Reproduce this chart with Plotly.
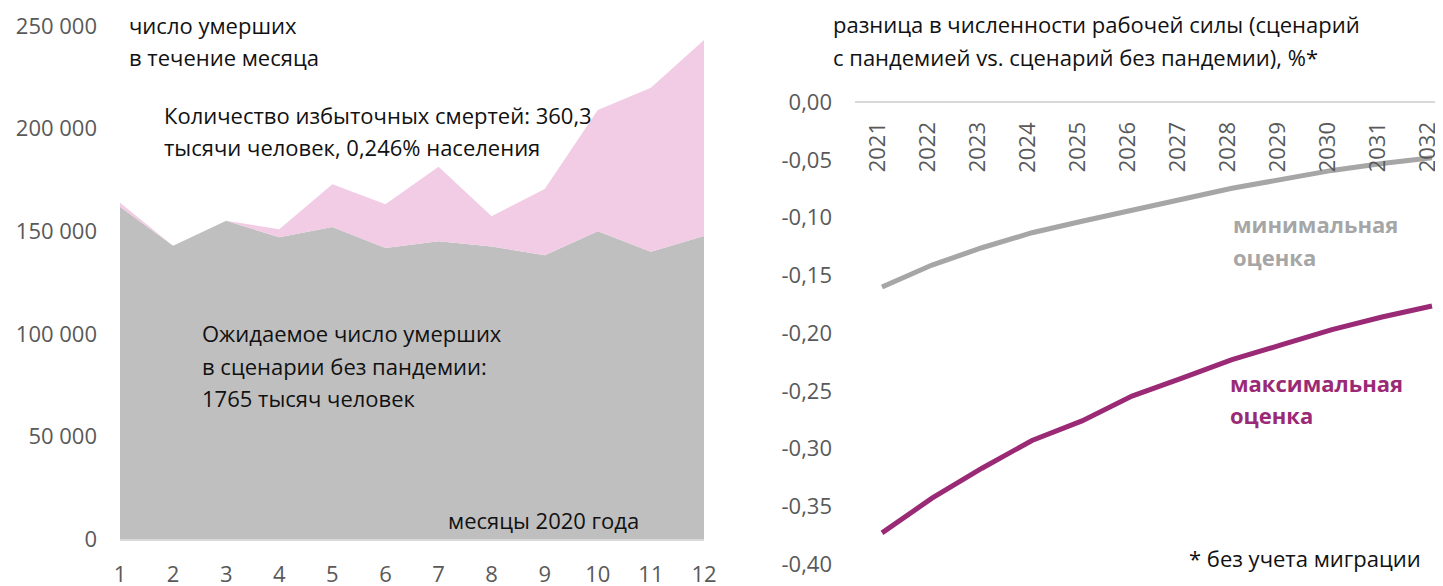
import plotly.graph_objects as go

W, H = 1443, 586
OFF = 8  # page body margin offset of the plot div

# ---- data: left chart (monthly deaths, 2020) ----
months = list(range(1, 13))
expected_deaths = [161900, 142900, 155100, 147000, 152000, 141800, 145100, 142500, 138300, 150000, 140000, 147700]
actual_deaths = [163900, 142900, 155100, 150900, 172900, 163100, 181400, 157300, 170600, 209100, 219900, 243200]
left_yticks = [0, 50000, 100000, 150000, 200000, 250000]
left_yticklabels = ["0", "50 000", "100 000", "150 000", "200 000", "250 000"]

# ---- data: right chart (labour force difference, %) ----
years = list(range(2021, 2033))
min_estimate = [-0.160, -0.141, -0.126, -0.113, -0.103, -0.093, -0.084, -0.0745, -0.067, -0.059, -0.053, -0.048]
max_estimate = [-0.373, -0.343, -0.317, -0.293, -0.276, -0.2545, -0.239, -0.223, -0.210, -0.197, -0.186, -0.1765]
right_yticks = [0, -0.05, -0.10, -0.15, -0.20, -0.25, -0.30, -0.35, -0.40]
right_yticklabels = ["0,00", "-0,05", "-0,10", "-0,15", "-0,20", "-0,25", "-0,30", "-0,35", "-0,40"]

FONT = "Open Sans"
TXT = "#111111"
TICK = "#595959"
GRAY_FILL = "#bfbfbf"
PINK_FILL = "#f2cbe5"
GRAY_LINE = "#a6a6a6"
PURPLE = "#9b2a76"
FS = 22


def px(x):
    return (x - OFF) / W


def py(y):
    return 1 - (y - OFF) / H


fig = go.Figure()

fig.add_trace(go.Scatter(x=months, y=expected_deaths, mode="lines", line=dict(width=0, color=GRAY_FILL),
                         fill="tozeroy", fillcolor=GRAY_FILL, xaxis="x", yaxis="y", showlegend=False,
                         hoverinfo="skip"))
fig.add_trace(go.Scatter(x=months, y=actual_deaths, mode="lines", line=dict(width=0, color=PINK_FILL),
                         fill="tonexty", fillcolor=PINK_FILL, xaxis="x", yaxis="y", showlegend=False,
                         hoverinfo="skip"))

fig.add_trace(go.Scatter(x=years, y=min_estimate, mode="lines", line=dict(width=5, color=GRAY_LINE),
                         xaxis="x2", yaxis="y2", showlegend=False))
fig.add_trace(go.Scatter(x=years, y=max_estimate, mode="lines", line=dict(width=5, color=PURPLE),
                         xaxis="x2", yaxis="y2", showlegend=False))

# axis geometry
left_dom_x = [px(120), px(704)]
left_dom_y = [py(539), py(26)]
right_dom_x = [px(855), px(1443)]
right_dom_y = [py(564), py(102.3)]

fig.update_layout(
    width=W, height=H,
    margin=dict(l=0, r=0, t=0, b=0, autoexpand=False),
    paper_bgcolor="white", plot_bgcolor="white",
    font=dict(family=FONT, size=FS, color=TXT),
    xaxis=dict(domain=left_dom_x, range=[1, 12], tickvals=months, ticktext=[str(m) for m in months],
               showgrid=False, zeroline=False, showline=True, linecolor="#d9d9d9", linewidth=2,
               ticks="", ticklabelstandoff=15, tickfont=dict(size=FS, color=TICK), anchor="y",
               automargin=False),
    yaxis=dict(domain=left_dom_y, range=[0, 250000], tickvals=left_yticks, ticktext=left_yticklabels,
               showgrid=False, zeroline=False, showline=False, ticks="", ticklabelstandoff=22,
               tickfont=dict(size=FS, color=TICK), anchor="x", automargin=False),
    xaxis2=dict(domain=right_dom_x, range=[2020.46, 2032.22], showticklabels=False, showgrid=False,
                zeroline=False, showline=False, ticks="", anchor="y2", automargin=False),
    yaxis2=dict(domain=right_dom_y, range=[-0.40, 0], tickvals=right_yticks, ticktext=right_yticklabels,
                showgrid=False, zeroline=True, zerolinecolor="#d9d9d9", zerolinewidth=2,
                showline=False, ticks="", ticklabelstandoff=22,
                tickfont=dict(size=FS, color=TICK), anchor="x2", automargin=False),
)

ann = []


def text(x, y, s, size=FS, color=TXT, bold=False, xanchor="left"):
    if bold:
        s = "<b>" + s + "</b>"
    ann.append(dict(x=px(x), y=py(y), xref="paper", yref="paper", text=s, showarrow=False,
                    xanchor=xanchor, yanchor="middle", font=dict(family=FONT, size=size, color=color)))


text(127, 25, "число умерших")
text(127, 57, "в течение месяца")
text(162, 115, "Количество избыточных смертей: 360,3")
text(162, 147, "тысячи человек, 0,246% населения")
text(200, 333, "Ожидаемое число умерших")
text(200, 366, "в сценарии без пандемии:")
text(200, 398, "1765 тысяч человек")
text(641, 520, "месяцы 2020 года", xanchor="right")

text(831, 24, "разница в численности рабочей силы (сценарий")
text(831, 57, "с пандемией vs. сценарий без пандемии), %*")
text(1231, 224, "минимальная", size=22, color=GRAY_LINE, bold=True)
text(1231, 257, "оценка", size=22, color=GRAY_LINE, bold=True)
text(1228, 383, "максимальная", size=22, color=PURPLE, bold=True)
text(1228, 415, "оценка", size=22, color=PURPLE, bold=True)
text(1423, 558, "* без учета миграции", xanchor="right")

for yr in years:
    ann.append(dict(x=yr, y=0, xref="x2", yref="y2", text=str(yr), showarrow=False, textangle=-90,
                    xanchor="center", yanchor="top", yshift=-18, xshift=-6,
                    font=dict(family=FONT, size=FS, color=TICK)))

fig.update_layout(annotations=ann)

fig.write_html("out.html")
